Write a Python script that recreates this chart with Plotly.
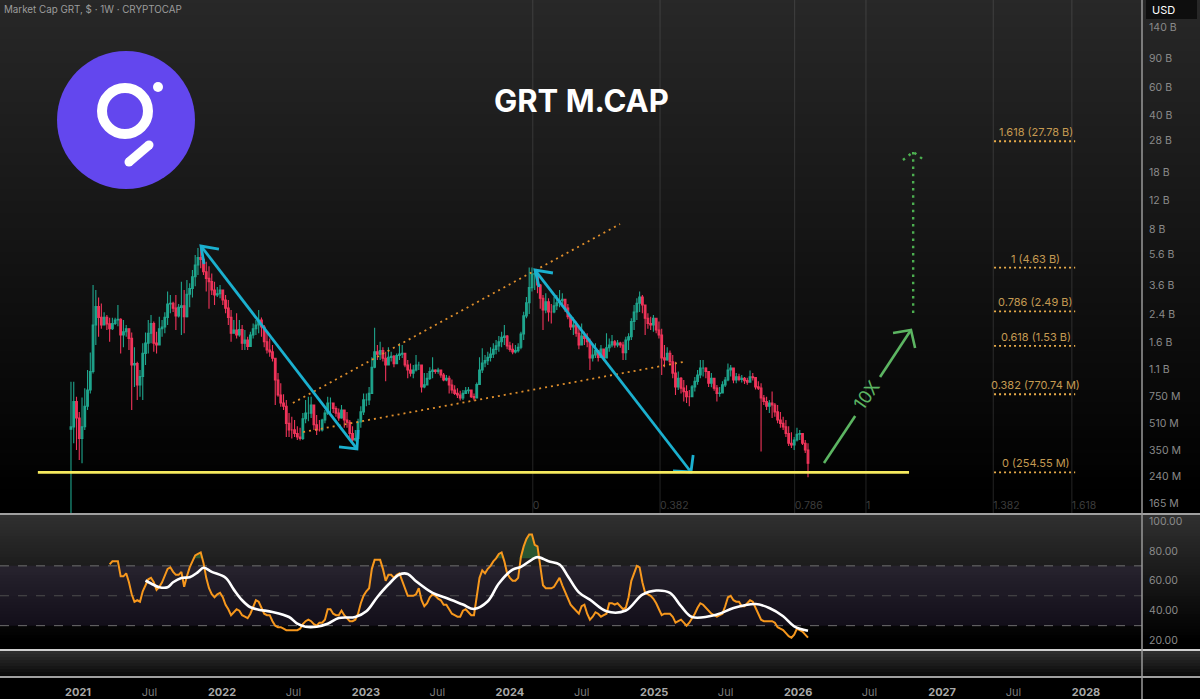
import math
import pandas as pd
import plotly.graph_objs as go
from plotly.subplots import make_subplots

FIRST_WEEK = pd.Timestamp("2020-12-14")

# weekly market cap, in millions of USD
closes = [
    485, 695, 550, 412, 486, 650, 819, 1063, 2056, 2670,
    2290, 2056, 2290, 2090, 1950, 2100, 2207, 2230, 1785, 1870,
    1950, 1700, 1167, 1190, 879, 990, 1375, 1590, 1830, 2100,
    1590, 1549, 1950, 2000, 2290, 2770, 2800, 2610, 2340, 2640,
    2700, 2310, 3180, 3450, 4075, 4810, 5350, 5210, 4370, 3980,
    3800, 3376, 3145, 3200, 3376, 2930, 2610, 2290, 1830, 1916,
    1785, 1930, 1590, 1663, 1515, 1785, 1950, 2056, 2207, 2000,
    1620, 1443, 1405, 1282, 943, 763, 680, 650, 510, 465,
    465, 442, 420, 412, 545, 590, 590, 662, 500, 465,
    465, 535, 590, 680, 680, 630, 590, 550, 617, 535,
    518, 442, 403, 412, 520, 600, 711, 711, 780, 1130,
    1405, 1360, 1430, 1282, 1167, 1300, 1320, 1190, 1335, 1360,
    1375, 1167, 1087, 1040, 1087, 1167, 1167, 855, 880, 965,
    1063, 1087, 1063, 1087, 1013, 943, 965, 879, 819, 780,
    763, 730, 780, 810, 819, 745, 730, 885, 1087, 1200,
    1240, 1300, 1360, 1455, 1530, 1620, 1725, 1760, 1530, 1455,
    1405, 1430, 1500, 1810, 2340, 2820, 3490, 4230, 4260, 3623,
    3000, 2543, 2860, 2470, 2470, 2700, 2820, 2900, 2960, 2610,
    2310, 2000, 2056, 1830, 1549, 1760, 1700, 1620, 1290, 1344,
    1430, 1300, 1460, 1290, 1490, 1549, 1620, 1549, 1590, 1549,
    1390, 1663, 1740, 2160, 2470, 2800, 3060, 2730, 2260, 2100,
    2056, 2260, 1916, 1785, 1290, 1252, 1375, 1220, 1040, 855,
    965, 840, 800, 745, 745, 855, 925, 1013, 1115, 1115,
    1063, 900, 965, 840, 780, 785, 880, 943, 1087, 1115,
    943, 985, 950, 965, 935, 915, 985, 975, 855, 840,
    730, 695, 650, 680, 662, 600, 535, 510, 485, 442,
    385, 376, 403, 437, 442, 385, 350, 290,
]
highs = [
    920, 920, 745, 600, 735, 840, 1087, 1390, 3623, 3376,
    3040, 2790, 2460, 2370, 2280, 2280, 2280, 2730, 2260, 2207,
    2056, 1950, 1850, 1500, 1220, 1087, 1590, 1850, 2207, 2369,
    2160, 1870, 2310, 2207, 2460, 3300, 3145, 2860, 3145, 2770,
    3800, 3376, 3889, 3720, 4481, 5542, 6130, 6385, 5280, 5040,
    4720, 4270, 3800, 3520, 3623, 3376, 3145, 2930, 2543, 2207,
    2430, 2207, 2056, 1916, 1740, 1870, 2100, 2207, 2543, 2290,
    2056, 1870, 1700, 1549, 1282, 1040, 900, 770, 711, 590,
    560, 535, 490, 480, 590, 711, 745, 745, 617, 575,
    535, 545, 617, 745, 735, 662, 650, 630, 662, 617,
    600, 535, 490, 465, 545, 650, 780, 780, 855, 1300,
    1980, 1549, 1620, 1500, 1405, 1500, 1405, 1344, 1375, 1590,
    1549, 1360, 1252, 1190, 1167, 1344, 1220, 1167, 1040, 1040,
    1130, 1300, 1100, 1120, 1090, 1040, 1013, 1000, 950, 875,
    840, 810, 819, 855, 855, 825, 780, 910, 1300, 1480,
    1344, 1405, 1500, 1590, 1663, 1760, 1870, 2056, 1785, 1620,
    1590, 1549, 1590, 1870, 2480, 3060, 4640, 4640, 4560, 4350,
    3680, 3145, 3220, 3000, 2770, 3060, 3145, 3376, 3220, 2930,
    2770, 2369, 2290, 2160, 2000, 2100, 1870, 1830, 1700, 1549,
    1590, 1443, 1549, 1443, 1830, 1700, 1785, 1663, 1663, 1620,
    1620, 1740, 1830, 2260, 2730, 3000, 3300, 3145, 2730, 2430,
    2310, 2369, 2260, 2160, 1950, 1549, 1500, 1430, 1344, 1220,
    1063, 985, 943, 875, 819, 879, 985, 1087, 1252, 1252,
    1130, 1063, 1040, 965, 879, 855, 925, 985, 1190, 1167,
    1063, 1040, 1030, 1013, 985, 975, 1080, 1040, 985, 925,
    900, 763, 745, 711, 800, 680, 662, 600, 560, 535,
    490, 450, 420, 480, 465, 442, 403, 385,
]
lows = [
    100, 385, 350, 304, 290, 465, 617, 780, 1035, 1549,
    1740, 1950, 2056, 1916, 1620, 1916, 2056, 2020, 1375, 1500,
    1740, 1443, 617, 855, 711, 745, 711, 1167, 1375, 1590,
    1405, 1375, 1549, 1740, 1830, 2056, 2430, 2470, 1916, 2290,
    1785, 1830, 2290, 2640, 3040, 3560, 4175, 4590, 4175, 3300,
    2590, 3145, 2730, 3060, 3000, 2730, 2430, 2056, 1620, 1830,
    1700, 1740, 1443, 1443, 1443, 1549, 1700, 1785, 1830, 1740,
    1500, 1375, 1310, 1225, 662, 745, 645, 617, 420, 420,
    412, 420, 403, 400, 403, 510, 525, 550, 465, 433,
    455, 455, 510, 575, 575, 590, 560, 530, 545, 480,
    480, 412, 385, 395, 412, 480, 575, 650, 662, 780,
    1115, 1252, 1252, 1225, 925, 1167, 1225, 1130, 1190, 1252,
    1290, 1130, 965, 990, 965, 1065, 1087, 790, 840, 880,
    943, 965, 1030, 1030, 975, 925, 925, 780, 780, 763,
    730, 705, 711, 775, 775, 730, 705, 730, 880, 1040,
    1130, 1167, 1225, 1290, 1360, 1405, 1500, 1549, 1460, 1405,
    1360, 1375, 1390, 1460, 1663, 2260, 2400, 3300, 3376, 3220,
    2590, 1916, 2430, 2160, 2100, 2430, 2543, 2640, 2670, 2470,
    2230, 1916, 1785, 1740, 1460, 1620, 1549, 1500, 1087, 1225,
    1290, 1225, 1310, 1240, 1290, 1405, 1500, 1490, 1500, 1490,
    1252, 1252, 1443, 1663, 1916, 2207, 2470, 2430, 1785, 1950,
    1916, 1870, 1830, 1700, 1013, 1130, 1240, 1167, 965, 763,
    819, 780, 695, 680, 650, 763, 800, 880, 965, 990,
    965, 855, 850, 810, 695, 745, 819, 855, 925, 990,
    900, 900, 925, 910, 890, 880, 915, 935, 825, 819,
    342, 662, 617, 590, 550, 560, 510, 480, 465, 420,
    370, 360, 350, 395, 403, 376, 335, 238,
]
opens = [470] + closes[:-1]

# RSI starts 14 weeks in
rsi_first_week = 14
rsi = [
    71, 73, 73, 73, 63, 63, 65, 59, 51, 46,
    47, 46, 53, 57, 61, 62, 59, 54, 56, 59,
    63, 68, 69, 66, 64, 64, 66, 56, 63, 69,
    73, 77, 78, 79, 72, 62, 55, 51, 49, 51,
    52, 49, 44, 41, 37, 39, 41, 40, 37, 36,
    35, 38, 43, 47, 46, 42, 38, 37, 37, 33,
    30, 29, 29, 28, 27, 27, 27, 27, 27, 28,
    31, 33, 34, 33, 31, 30, 32, 32, 34, 41,
    41, 38, 37, 37, 40, 37, 35, 33, 33, 34,
    38, 45, 50, 53, 55, 68, 74, 74, 74, 68,
    60, 64, 64, 62, 64, 65, 60, 55, 50, 50,
    50, 51, 55, 47, 43, 45, 49, 51, 50, 48,
    47, 44, 44, 41, 38, 37, 36, 36, 40, 41,
    39, 37, 37, 50, 62, 67, 65, 68, 70, 73,
    75, 78, 79, 73, 65, 62, 60, 60, 62, 76,
    83, 88, 91, 91, 84, 83, 70, 57, 55, 55,
    55, 56, 59, 62, 57, 53, 49, 44, 42, 40,
    38, 43, 44, 38, 34, 36, 39, 38, 36, 37,
    38, 45, 45, 44, 45, 43, 41, 42, 49, 60,
    65, 70, 69, 59, 52, 51, 50, 48, 45, 41,
    37, 38, 38, 38, 36, 32, 33, 34, 32, 30,
    32, 35, 38, 42, 45, 44, 42, 40, 38, 37,
    36, 37, 38, 43, 49, 50, 47, 46, 46, 43,
    43, 45, 47, 46, 42, 37, 34, 33, 33, 33,
    33, 32, 29, 28, 27, 25, 23, 22, 24, 28,
    27, 26, 24, 22,
]
rsi_ma_weeks = [27, 29, 32, 35, 37, 40, 43, 46, 48, 51, 56, 59, 62, 65, 68, 73, 79, 82, 85, 89, 93, 97,
                103, 107, 111, 115, 119, 122, 125, 131, 136, 142, 146, 151, 155, 160, 163, 167, 169,
                173, 177, 180, 184, 188, 194, 201, 207, 212, 217, 221, 225, 234, 240, 248, 253, 258, 262, 267]
rsi_ma = [60.2, 58.2, 55.7, 55.7, 59, 61.9, 62.4, 65.8, 68.7, 66, 62, 54.1, 47, 42.3, 40.7, 39.2, 35.8, 31.3, 29.3, 29.3, 31.3, 35.1,
          35.8, 39.6, 49.2, 57.5, 64.2, 64.6, 59.7, 51.9, 48.5, 44.1, 41.2, 46.3, 58.2, 67.5, 69.3, 74.2, 75.8,
          73.1, 70.9, 63.1, 52.3, 47.4, 39.6, 40.1, 50.8, 53.5, 51.9, 43, 35.8, 37.4, 41.8, 44.5, 41.8, 36.3, 29.6, 26.6]

price_ticks = [140000, 90000, 60000, 40000, 28000, 18000, 12000, 8000, 5600, 3600, 2400, 1600, 1100, 750, 510, 350, 240, 165]
price_labels = ["140 B", "90 B", "60 B", "40 B", "28 B", "18 B", "12 B", "8 B", "5.6 B", "3.6 B", "2.4 B", "1.6 B", "1.1 B",
                "750 M", "510 M", "350 M", "240 M", "165 M"]
rsi_ticks = [100, 80, 60, 40, 20]

time_ticks = ["2021-01-01", "2021-07-01", "2022-01-01", "2022-07-01", "2023-01-01", "2023-07-01", "2024-01-01", "2024-07-01",
              "2025-01-01", "2025-07-01", "2026-01-01", "2026-07-01", "2027-01-01", "2027-07-01", "2028-01-01"]
time_labels = ["2021", "Jul", "2022", "Jul", "2023", "Jul", "2024", "Jul", "2025", "Jul", "2026", "Jul", "2027", "Jul", "2028"]

fib_levels = ["1.618 (27.78 B)", "1 (4.63 B)", "0.786 (2.49 B)", "0.618 (1.53 B)", "0.382 (770.74 M)", "0 (254.55 M)"]
fib_values = [27780, 4630, 2490, 1530, 770.74, 254.55]
fib_weeks = [334.4, 363.8]
fib_time_levels = [0, 0.382, 0.786, 1, 1.382, 1.618]
fib_time_start = 167.3
fib_time_span = 120.7

support_weeks = [-12, 303.6]
support_value = [254.55, 254.55]

# drawings: week number / market cap, None breaks the line
arrow1_weeks = [53.6, 47.1, 48.2, None, 47.1, 103.6, None, 97.1, 103.6, 104.0]
arrow1_vals = [6032, 6295, 4877, None, 6295, 355, None, 365, 355, 464]
arrow2_weeks = [174.6, 168.1, 169.6, None, 168.1, 224.6, None, 218.1, 224.6, 225.4]
arrow2_vals = [4295, 4480, 3521, None, 4480, 256, None, 260, 256, 326]
upper_trend_weeks = [80.4, 198.9]
upper_trend_vals = [681, 8600]
lower_trend_weeks = [84.1, 221.7]
lower_trend_vals = [451, 1216]
target_weeks = [272.8, 284.1, None, 293.1, 304.3, None, 297.8, 304.3, 305.8]
target_vals = [291, 566, None, 984, 1914, None, 1835, 1914, 1483]
dotted_weeks = [305.1, 305.1, None, 301.4, 305.1, 309]
dotted_vals = [2436, 23860, None, 21300, 23860, 21300]

FONT = "Inter"
W, H = 1200, 699
RIGHT = 1142


def week_date(k):
    if k is None:
        return None
    return FIRST_WEEK + pd.Timedelta(days=7 * k)


def dates(weeks):
    return [week_date(k) for k in weeks]


def px(x):
    return x / W


def py(y):
    return 1 - y / H


def grey(v):
    return "rgb({0},{0},{0})".format(int(v))


def gradient(y0, y1, top, bottom, stop=None):
    # plotly has no gradient fill, so stack thin bands
    out = []
    stop = stop or y1
    y = y0
    while y < y1:
        t = min(1, (y - y0) / (stop - y0))
        out.append(dict(type="rect", xref="paper", yref="paper", x0=0, x1=1, y0=py(y), y1=py(min(y + 3, y1)),
                        fillcolor=grey(top + (bottom - top) * t), line_width=0, layer="below"))
        y += 3
    return out


def disc(cx, cy, r, color, line=None, width=0):
    return dict(type="circle", xref="paper", yref="paper", x0=px(cx - r), x1=px(cx + r), y0=py(cy + r), y1=py(cy - r),
                fillcolor=color, line=dict(color=line or color, width=width), layer="above")


def label(text, x, y, size, color, anchor="center", weight="normal"):
    return dict(text=text, x=px(x), y=py(y), xref="paper", yref="paper", xanchor=anchor, yanchor="middle", showarrow=False,
                font=dict(family=FONT, size=size, color=color, weight=weight))


fig = make_subplots(rows=3, cols=1, shared_xaxes=True, vertical_spacing=0)

week_index = pd.date_range(FIRST_WEEK, periods=len(closes), freq="7D")
fig.add_trace(go.Candlestick(x=week_index, open=opens, high=highs, low=lows, close=closes, whiskerwidth=0,
                             increasing=dict(line=dict(color="#1fa58d", width=1.1), fillcolor="#1fa58d"),
                             decreasing=dict(line=dict(color="#f0345a", width=1.1), fillcolor="#f0345a")), row=1, col=1)


def line(weeks, vals, color, width, dash="solid", row=1, shape="linear"):
    fig.add_trace(go.Scatter(x=dates(weeks), y=vals, mode="lines", connectgaps=False,
                             line=dict(color=color, width=width, dash=dash, shape=shape)), row=row, col=1)


line(upper_trend_weeks, upper_trend_vals, "#e08f2c", 1.8, "2px,4px")
line(lower_trend_weeks, lower_trend_vals, "#e08f2c", 1.8, "2px,4px")
line(arrow1_weeks, arrow1_vals, "#1bb0cf", 2.8)
line(arrow2_weeks, arrow2_vals, "#1bb0cf", 2.8)
line(support_weeks, support_value, "#f6ea5e", 2.6)
line(target_weeks, target_vals, "#5cb562", 2.6)
line(dotted_weeks, dotted_vals, "#4caf50", 2.4, "2.5px,4.7px")

for value in fib_values:
    line(fib_weeks, [value, value], "#e8ac4a", 1.8, "2px,3px")

fib_time_weeks = [fib_time_start + lv * fib_time_span for lv in fib_time_levels]
fig.add_trace(go.Scatter(x=dates(fib_time_weeks), y=[158] * len(fib_time_weeks), mode="text",
                         text=[str(lv) for lv in fib_time_levels], textposition="middle right",
                         textfont=dict(family=FONT, size=10.5, color="#3c3c3c")), row=1, col=1)

# rsi pane
rsi_weeks = list(range(rsi_first_week, rsi_first_week + len(rsi)))
over_level = 75
fig.add_trace(go.Scatter(x=dates(rsi_weeks), y=[over_level] * len(rsi), mode="lines", line=dict(width=0)), row=2, col=1)
fig.add_trace(go.Scatter(x=dates(rsi_weeks), y=[max(v, over_level) for v in rsi], mode="lines", line=dict(width=0),
                         fill="tonexty", fillcolor="rgba(50,130,60,0.55)"), row=2, col=1)
line(rsi_weeks, rsi, "#f7981d", 2, row=2)
line(rsi_ma_weeks, rsi_ma, "#ffffff", 2.6, row=2, shape="spline")

# empty pane still has to own the time axis
fig.add_trace(go.Scatter(x=[FIRST_WEEK], y=[0.5], mode="lines", line=dict(width=0)), row=3, col=1)

shapes = []
shapes += gradient(0, 514, 40, 0, 500)
shapes += gradient(515, 650, 48, 0, 640)
shapes += gradient(651, 677, 46, 5)
shapes.append(dict(type="rect", xref="paper", yref="y2", x0=0, x1=px(RIGHT), y0=30, y1=70,
                   fillcolor="rgba(126,87,194,0.11)", line_width=0, layer="below"))
for level in [70, 50, 30]:
    shapes.append(dict(type="line", xref="paper", yref="y2", x0=0, x1=px(RIGHT), y0=level, y1=level,
                       line=dict(color="#6f6f6f" if level != 50 else "#4c4c4c", width=1, dash="dash"), layer="below"))
for k in fib_time_weeks:
    shapes.append(dict(type="line", xref="x", yref="paper", x0=week_date(k), x1=week_date(k), y0=py(513), y1=1,
                       line=dict(color="rgba(130,130,130,0.28)", width=1), layer="below"))
for y, color in [(514, "#a0a0a0"), (650, "#cfcfcf"), (677, "#a0a0a0")]:
    shapes.append(dict(type="line", xref="paper", yref="paper", x0=0, x1=1, y0=py(y), y1=py(y),
                       line=dict(color=color, width=2), layer="above"))
shapes.append(dict(type="line", xref="paper", yref="paper", x0=px(RIGHT), x1=px(RIGHT), y0=0, y1=1,
                   line=dict(color="#9a9a9a", width=1.5), layer="above"))
shapes.append(dict(type="rect", xref="paper", yref="paper", x0=px(1146), x1=px(1197), y0=py(19), y1=1,
                   fillcolor="#0e0e0e", line_width=0, layer="above"))

# logo
shapes.append(disc(126, 120, 69, "#6347ee"))
shapes.append(disc(125, 111, 23, "rgba(0,0,0,0)", "#ffffff", 10))
shapes.append(disc(158, 87, 5, "#ffffff"))
shapes.append(dict(type="line", xref="paper", yref="paper", x0=px(129), x1=px(149), y0=py(162), y1=py(145),
                   line=dict(color="#ffffff", width=9), layer="above"))
shapes.append(disc(129, 162, 4.5, "#ffffff"))
shapes.append(disc(149, 145, 4.5, "#ffffff"))

annotations = [
    label("GRT M.CAP", 581, 100, 31, "#ffffff", weight="bold"),
    label("Market Cap GRT, $ · 1W · CRYPTOCAP", 2, 9, 9.8, "#9c9c9c", anchor="left"),
    label("USD", 1163, 10, 11, "#ffffff"),
    dict(text="10X", x=week_date(288), y=math.log10(762), xref="x", yref="y", showarrow=False, textangle=-55,
         font=dict(family=FONT, size=18, color="#5cb562")),
]
for text, value in zip(fib_levels, fib_values):
    annotations.append(dict(text=text, x=week_date(sum(fib_weeks) / 2 + 0.4), y=math.log10(value), xref="x", yref="y",
                            yshift=9, showarrow=False, font=dict(family=FONT, size=11, color="#c49a52")))

year_labels = []
for name in time_labels:
    if name == "Jul":
        year_labels.append('<span style="color:#7c7c7c">Jul</span>')
    else:
        year_labels.append('<b>' + name + '</b>')

fig.update_layout(
    width=W, height=H, margin=dict(l=0, r=0, t=0, b=0), autosize=False, showlegend=False,
    paper_bgcolor="#000000", plot_bgcolor="rgba(0,0,0,0)", shapes=shapes, annotations=annotations,
    font=dict(family=FONT, size=10.5, color="#8a8a8a"),
    hovermode=False, boxgap=0.12,
)
xrange = ["2020-06-17", "2028-05-22"]
for name in ["xaxis", "xaxis2", "xaxis3"]:
    fig.layout[name].update(domain=[0, RIGHT / W], range=xrange, showgrid=False, zeroline=False, showline=False,
                            rangeslider=dict(visible=False))
fig.layout.xaxis3.update(tickmode="array", tickvals=time_ticks, ticktext=year_labels, ticks="outside", ticklen=6, tickcolor="rgba(0,0,0,0)",
                         tickangle=0, tickfont=dict(family=FONT, size=11, color="#a8a8a8"), automargin=False)
fig.layout.yaxis.update(domain=[py(513), 1], type="log", range=[2.156, 5.313], side="right", tickmode="array", tickvals=price_ticks,
                        ticktext=price_labels, showgrid=False, zeroline=False, ticks="outside", ticklen=4, tickcolor="rgba(0,0,0,0)",
                        tickfont=dict(family=FONT, size=10.5, color="#8a8a8a"))
fig.layout.yaxis2.update(domain=[py(649), py(515)], range=[14.4, 104], side="right", tickmode="array", tickvals=rsi_ticks,
                         ticktext=["%.2f" % v for v in rsi_ticks], showgrid=False, zeroline=False, ticks="outside", ticklen=4, tickcolor="rgba(0,0,0,0)",
                         tickfont=dict(family=FONT, size=10.5, color="#8a8a8a"))
fig.layout.yaxis3.update(domain=[py(676), py(651)], range=[0, 1], showticklabels=False, showgrid=False, zeroline=False)

# the page's default body margin would push the figure off by 8px
fig.write_html("out.html", config=dict(displayModeBar=False),
               post_script="document.body.style.margin='0';document.body.style.overflow='hidden';")
